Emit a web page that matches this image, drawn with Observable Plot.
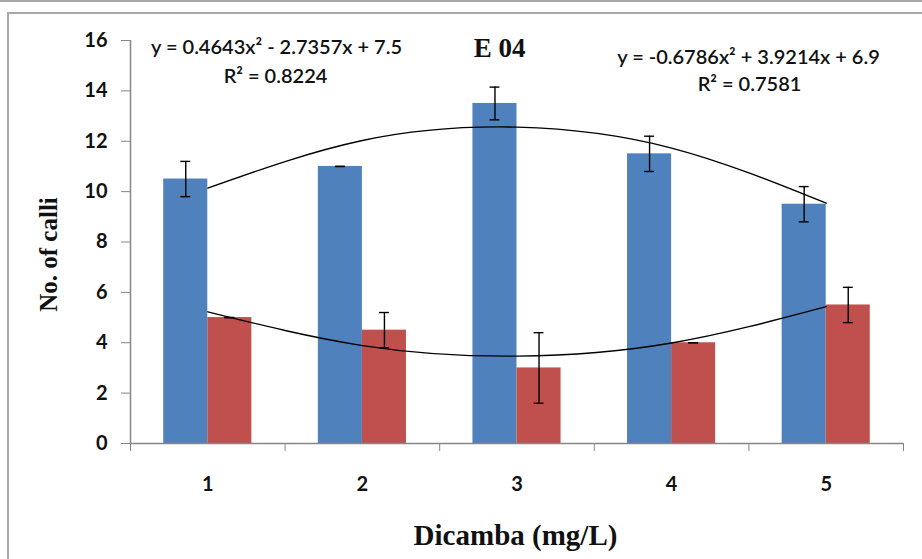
<!DOCTYPE html>
<html><head><meta charset="utf-8">
<script src="https://cdn.jsdelivr.net/npm/d3@7"></script>
<script src="https://cdn.jsdelivr.net/npm/@observablehq/plot@0.6"></script>
<style>
body{margin:0;background:#fff;}
#wrap{position:relative;width:922px;height:559px;overflow:hidden;background:#fff;}
#topline{position:absolute;left:0;top:0;width:922px;height:0;border-top:2px solid #a8a8a8;}
#frame{position:absolute;left:7px;top:12px;width:960px;height:620px;border-left:2px solid #a8a8a8;border-top:2px solid #a8a8a8;}
#chart{position:absolute;left:0;top:0;}
</style></head><body>
<div id="wrap"><div id="topline"></div><div id="frame"></div><div id="chart"></div></div>
<script>
// ---- data ----
const doses = [1, 2, 3, 4, 5];
const blueValues = [10.5, 11, 13.5, 11.5, 9.5];
const blueErrors = [0.7, 0, 0.65, 0.7, 0.7];
const redValues = [5, 4.5, 3, 4, 5.5];
const redErrors = [0, 0.7, 1.4, 0, 0.7];
const blueTrend = [10.14, 12.03, 12.56, 11.73, 9.54];
const redTrend = [5.23, 3.89, 3.47, 3.99, 5.43];
const yTicks = [0, 2, 4, 6, 8, 10, 12, 14, 16];
const xBoundaries = [0.5, 1.5, 2.5, 3.5, 4.5, 5.5];
const blueEquation = "y = -0.6786x\u00B2 + 3.9214x + 6.9";
const blueR2 = "R\u00B2 = 0.7581";
const redEquation = "y = 0.4643x\u00B2 - 2.7357x + 7.5";
const redR2 = "R\u00B2 = 0.8224";
const title = "E 04";
const xLabel = "Dicamba (mg/L)";
const yLabel = "No. of calli";

// ---- styling ----
const BLUE = "#4f81bd", RED = "#c0504d", GRAY = "#868686";
const BW = 0.285, CAP = 0.032;
const serif = "'Liberation Serif', 'Times New Roman', serif";
const sans = "Lato, 'Open Sans', sans-serif";

const blueRows = doses.map((d, i) => ({dose: d, value: blueValues[i], err: blueErrors[i], c: d - BW / 2}));
const redRows = doses.map((d, i) => ({dose: d, value: redValues[i], err: redErrors[i], c: d + BW / 2}));
const errRows = [...blueRows, ...redRows];
const blueTrendRows = doses.map((d, i) => ({dose: d, v: blueTrend[i]}));
const redTrendRows = doses.map((d, i) => ({dose: d, v: redTrend[i]}));

const L = 130, T = 40;
const note = (txt, cx, by, size, family, weight = "bold") =>
  Plot.text([txt], {text: d => d, frameAnchor: "top-left", dx: cx - L, dy: by - T,
    textAnchor: "middle", lineAnchor: "bottom", fontSize: size, fontFamily: family, fontWeight: weight, fill: "#111"});

const chart = Plot.plot({
  width: 922, height: 559,
  marginLeft: L, marginRight: 19, marginTop: T, marginBottom: 116,
  style: {fontFamily: sans, background: "transparent", overflow: "visible"},
  x: {domain: [0.5, 5.5]},
  y: {domain: [0, 16]},
  marks: [
    Plot.rectY(blueRows, {x1: d => d.dose - BW, x2: "dose", y1: 0, y2: "value", fill: BLUE}),
    Plot.rectY(redRows, {x1: "dose", x2: d => d.dose + BW, y1: 0, y2: "value", fill: RED}),
    Plot.ruleX(errRows, {x: "c", y1: d => d.value - d.err, y2: d => d.value + d.err, stroke: "#000", strokeWidth: 1.4}),
    Plot.ruleY(errRows, {y: d => d.value + d.err, x1: d => d.c - CAP, x2: d => d.c + CAP, stroke: "#000", strokeWidth: 1.4}),
    Plot.ruleY(errRows, {y: d => d.value - d.err, x1: d => d.c - CAP, x2: d => d.c + CAP, stroke: "#000", strokeWidth: 1.4}),
    Plot.line(blueTrendRows, {x: "dose", y: "v", curve: "natural", stroke: "#000", strokeWidth: 1.3}),
    Plot.line(redTrendRows, {x: "dose", y: "v", curve: "natural", stroke: "#000", strokeWidth: 1.3}),
    Plot.ruleX([0.5], {stroke: GRAY, strokeWidth: 1.5}),
    Plot.ruleY([0], {stroke: GRAY, strokeWidth: 1.5}),
    Plot.axisY({ticks: yTicks, tickSize: 9, tickPadding: 14, stroke: GRAY, fill: "#111", fontSize: 20, fontWeight: "bold", label: null}),
    Plot.axisX({ticks: xBoundaries, tickFormat: () => "", tickSize: 8, stroke: GRAY, label: null}),
    Plot.axisX({ticks: doses, tickSize: 0, tickPadding: 33, fill: "#111", fontSize: 20, fontWeight: "bold", label: null, tickFormat: d => String(d)}),
    note(title, 499, 56, 27, serif),
    note(redEquation, 276, 53, 20, sans, 600),
    note(redR2, 275, 82, 20, sans, 600),
    note(blueEquation, 748, 63, 20, sans, 600),
    note(blueR2, 749, 90, 20, sans, 600),
    note(xLabel, 515, 544, 29, serif),
    Plot.text([yLabel], {text: d => d, frameAnchor: "top-left", dx: 39 - L, dy: 254 - T, rotate: -90,
      textAnchor: "middle", fontSize: 25, fontFamily: serif, fontWeight: "bold", fill: "#111"})
  ]
});
document.getElementById("chart").appendChild(chart);
</script>
</body></html>
